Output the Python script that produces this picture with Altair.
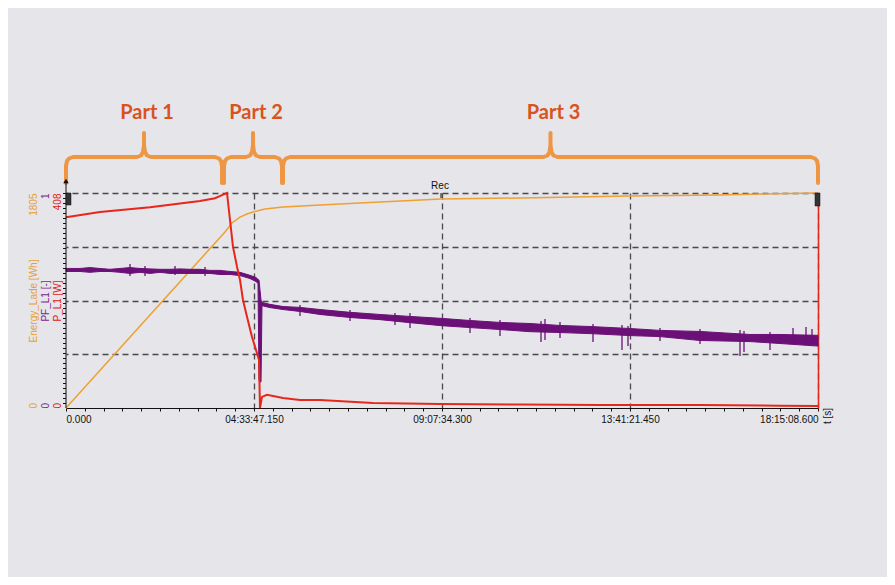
import altair as alt
import pandas as pd

# ---------------- data ----------------
T_END = 65708.6  # 18:15:08.600 in seconds
MAJOR = T_END / 4
MINOR = MAJOR / 10

# Energy_Lade [Wh]
energy_t = [0, 13893, 14505, 15204, 15815, 16340, 17388, 18961, 22194, 27437,
            32767, 39670, 49194, 56883, 60640, 65708.6]
energy_v = [0, 1478, 1553, 1603, 1629, 1645, 1671, 1687, 1704, 1729,
            1755, 1763, 1780, 1788, 1797, 1805]

# PF_L1 [-] noise band (upper / lower envelope)
pf_t = [0, 1223, 2097, 2971, 3845, 4718, 5592, 6466, 7340, 8214, 9087, 9961,
        10835, 11709, 12582, 13456, 14330, 15204, 16078, 16602, 16777, 16864,
        16951, 17039, 17126, 17825, 18961, 20446, 22194, 24815, 27437, 30058,
        32767, 35301, 37922, 40543, 43165, 45786, 49194, 51902, 55397, 59765,
        62388, 65708.6]
pf_hi = [0.649, 0.649, 0.653, 0.649, 0.645, 0.649, 0.653, 0.649, 0.647, 0.645,
         0.645, 0.647, 0.645, 0.645, 0.640, 0.640, 0.635, 0.631, 0.617, 0.607,
         0.598, 0.595, 0.549, 0.502, 0.491, 0.482, 0.472, 0.468, 0.458, 0.445,
         0.435, 0.426, 0.417, 0.407, 0.398, 0.393, 0.384, 0.379, 0.370, 0.361,
         0.356, 0.342, 0.342, 0.338]
pf_lo = [0.635, 0.635, 0.631, 0.635, 0.635, 0.631, 0.626, 0.631, 0.626, 0.631,
         0.626, 0.626, 0.626, 0.626, 0.626, 0.621, 0.621, 0.616, 0.602, 0.588,
         0.579, 0.130, 0.121, 0.121, 0.476, 0.467, 0.458, 0.449, 0.435, 0.421,
         0.411, 0.397, 0.383, 0.374, 0.365, 0.355, 0.351, 0.346, 0.337, 0.332,
         0.314, 0.309, 0.300, 0.288]

# PF_L1 spikes
spike_t = [5592, 6903, 9524, 12146, 20446, 24815, 28747, 30058, 35301, 37922,
           41505, 41854, 43165, 46048, 48582, 49106, 51902, 55397, 58893, 59243,
           61515, 63525, 64660, 65184]
spike_hi = [0.670, 0.660, 0.660, 0.656, 0.479, 0.456, 0.442, 0.442, 0.419, 0.409,
            0.405, 0.414, 0.400, 0.391, 0.386, 0.381, 0.372, 0.367, 0.363, 0.358,
            0.353, 0.372, 0.377, 0.367]
spike_lo = [0.614, 0.614, 0.619, 0.614, 0.428, 0.405, 0.386, 0.372, 0.349, 0.335,
            0.307, 0.316, 0.326, 0.307, 0.270, 0.288, 0.312, 0.298, 0.242, 0.260,
            0.270, 0.298, 0.293, 0.288]

# P_L1 [W]
p_t = [0, 2971, 7340, 11709, 13019, 13631, 14068, 14592, 14942, 15204, 15466,
       15815, 16252, 16689, 16864, 16951, 17126, 17563, 18961, 20446, 22194,
       26825, 32679, 39670, 46660, 55397, 62388, 65708.6]
p_v = [362, 372, 381, 393, 398, 404, 408, 306, 268, 243, 205,
       173, 135, 104, 91, 0, 21, 25, 19, 15, 15,
       9.5, 7.6, 6.6, 5.7, 5.5, 4.5, 4.0]

# Parts (brace spans, seconds)
part_names = ["Part 1", "Part 2", "Part 3"]
part_start = [0, 13806, 18961]
part_end = [13631, 18874, 65708.6]

# ---------------- layout ----------------
W, H = 752, 215
SPP = T_END / W  # seconds per pixel

C_OR = "#F0A030"
C_PU = "#6B1077"
C_RD = "#E8261C"
FONT = "Liberation Sans"

is_major = "abs(datum.value/%f - round(datum.value/%f)) < 0.001" % (MAJOR, MAJOR)
label_expr = (
    "datum.value == 0 ? '0.000' : (" + is_major +
    " ? format(floor(datum.value/3600),'02d') + ':' + "
    "format(floor((datum.value%3600)/60),'02d') + ':' + "
    "format(datum.value%60,'06.3f') : '')"
)

x_enc = alt.X(
    "t:Q",
    scale=alt.Scale(domain=[0, T_END], nice=False, zero=False),
    axis=alt.Axis(
        orient="bottom", title=None,
        values=[i * MINOR for i in range(41)],
        labelExpr=label_expr, labelFlush=True, labelOverlap=False,
        labelFont=FONT, labelFontSize=10, labelColor="#111", labelPadding=3,
        tickSize=3, tickColor="#111", domainColor="#111", domainWidth=1,
        grid=True, gridColor="#4a4a4a", gridDash=[6, 4], gridWidth=1.3,
        gridOpacity={"condition": {"test": is_major + " && datum.value > 0", "value": 1}, "value": 0},
    ),
)


def left_axis(title, color, vmax, dist):
    return alt.Axis(
        orient="left", values=[0, vmax], format="d", domain=False, ticks=False, tickSize=0,
        grid=False, labelAngle=270,
        labelAlign={"condition": {"test": "datum.value == 0", "value": "left"}, "value": "right"},
        labelBaseline="middle", labelPadding=dist, labelFlush=False, labelOverlap=False,
        labelColor=color, labelFont=FONT, labelFontSize=10,
        title=title, titleColor=color, titleFont=FONT, titleFontSize=10,
        titleFontWeight="normal", titleAngle=270, titleAlign="center",
        titleBaseline="middle", titleX=-dist, titleY=H / 2,
    )


df_e = pd.DataFrame({"t": energy_t, "v": energy_v})
df_pf = pd.DataFrame({"t": pf_t, "hi": pf_hi, "lo": pf_lo})
df_sp = pd.DataFrame({"t": spike_t, "hi": spike_hi, "lo": spike_lo})
df_p = pd.DataFrame({"t": p_t, "v": p_v})

energy = alt.Chart(df_e).mark_line(color=C_OR, strokeWidth=1.5).encode(
    x=x_enc,
    y=alt.Y("v:Q", scale=alt.Scale(domain=[0, 1805], nice=False),
            axis=left_axis("Energy_Lade [Wh]", "#E8A030", 1805, 33)),
)

pf_band = alt.Chart(df_pf).mark_area(color=C_PU, stroke=C_PU, strokeWidth=1.0).encode(
    x=x_enc,
    y=alt.Y("hi:Q", scale=alt.Scale(domain=[0, 1], nice=False),
            axis=left_axis("PF_L1 [-]", "#7B2A8C", 1, 21)),
    y2="lo:Q",
)

pf_spikes = alt.Chart(df_sp).mark_rule(color=C_PU, strokeWidth=1.3).encode(
    x=x_enc,
    y=alt.Y("hi:Q", scale=alt.Scale(domain=[0, 1], nice=False),
            axis=alt.Axis(orient="right", values=[0.25, 0.5, 0.75, 1], labels=False,
                          ticks=False, title=None, domain=True, domainColor=C_RD,
                          domainWidth=1.5, grid=True, gridColor="#4a4a4a",
                          gridDash=[6, 4], gridWidth=1.3)),
    y2="lo:Q",
)

power = alt.Chart(df_p).mark_line(color=C_RD, strokeWidth=2).encode(
    x=x_enc,
    y=alt.Y("v:Q", scale=alt.Scale(domain=[0, 408], nice=False),
            axis=left_axis("P_L1 [W]", "#E02020", 408, 9)),
)

# braces (shape built around the part spans)
rows = []
for k, (a, b) in enumerate(zip(part_start, part_end)):
    m = (a + b) / 2
    shape = [(a, 0, -10), (a, 0, -27), (a, 1, -32), (a, 3, -34.5), (a, 7, -36),
             (m, -7, -36), (m, -3, -37.5), (m, -1, -41), (m, 0, -48), (m, 0, -60),
             (m, 0, -48), (m, 1, -41), (m, 3, -37.5), (m, 7, -36),
             (b, -7, -36), (b, -3, -34.5), (b, -1, -32), (b, 0, -27), (b, 0, -10)]
    for i, (base, dx, yy) in enumerate(shape):
        rows.append({"t": base + dx * SPP, "by": yy, "part": k, "o": i})
df_br = pd.DataFrame(rows)

braces = alt.Chart(df_br).mark_line(
    color="#EE9644", strokeWidth=4, strokeCap="round", strokeJoin="round"
).encode(
    x=x_enc,
    y=alt.Y("by:Q", scale=alt.Scale(domain=[0, H], range=[0, H], nice=False, zero=False), axis=None),
    detail="part:N",
    order="o:Q",
)

df_lab = pd.DataFrame({"t": [(a + b) / 2 for a, b in zip(part_start, part_end)],
                       "label": part_names})
part_text = alt.Chart(df_lab).mark_text(
    font="Lato", fontSize=20, fontWeight="bold", color="#D9531E", baseline="middle", dx=3
).encode(x=x_enc, y=alt.value(-80), text="label:N")

one = alt.Data(values=[{}])
left_line = alt.Chart(one).mark_rule(color="#111", strokeWidth=1).encode(
    x=alt.value(0), y=alt.value(-12), y2=alt.value(H))
left_dots = alt.Chart(one).mark_rule(color="#111", strokeWidth=3, strokeDash=[1, 4]).encode(
    x=alt.value(-1.5), y=alt.value(0), y2=alt.value(H))
arrow = alt.Chart(one).mark_point(shape="triangle-up", filled=True, color="#111", size=30, opacity=1).encode(
    x=alt.value(0), y=alt.value(-12))
icon_l = alt.Chart(one).mark_rect(fill="#333", stroke="#111", strokeWidth=0.5).encode(
    x=alt.value(0), x2=alt.value(5), y=alt.value(0), y2=alt.value(12))
icon_r = alt.Chart(one).mark_rect(fill="#333", stroke="#111", strokeWidth=0.5).encode(
    x=alt.value(W - 3), x2=alt.value(W + 2), y=alt.value(0), y2=alt.value(13))
rec_tick = alt.Chart(one).mark_rule(color="#111", strokeWidth=1).encode(
    x=alt.value(375), y=alt.value(0), y2=alt.value(5))
rec = alt.Chart(one).mark_text(font=FONT, fontSize=10, color="#111", baseline="middle").encode(
    x=alt.value(374), y=alt.value(-7), text=alt.value("Rec"))
t_unit = alt.Chart(one).mark_text(font=FONT, fontSize=10, color="#111", angle=270,
                                  baseline="middle").encode(
    x=alt.value(W + 10), y=alt.value(H + 8), text=alt.value("t [s]"))

chart = alt.layer(
    energy, pf_band, pf_spikes, power, braces, part_text,
    left_dots, left_line, arrow, icon_l, icon_r, rec_tick, rec, t_unit,
).resolve_scale(y="independent").properties(
    width=W, height=H,
    autosize=alt.AutoSizeParams(type="none"),
    padding={"left": 58, "top": 185, "right": 69, "bottom": 169},
    background="#E5E5EA",
).configure_view(stroke=None)

chart.save("out.html", embed_options={"renderer": "svg", "actions": False})
